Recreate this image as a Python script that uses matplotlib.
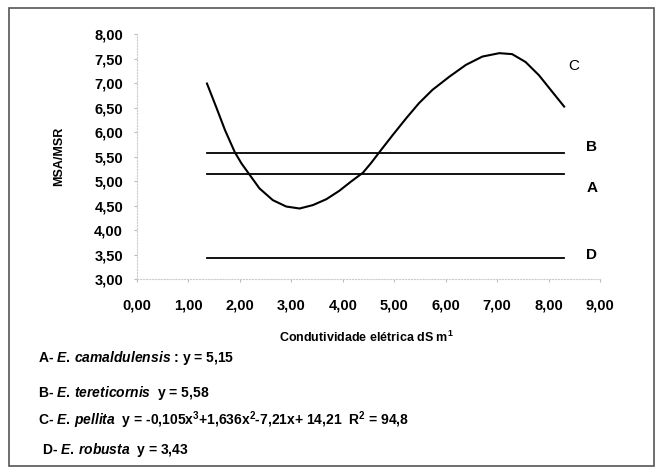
import matplotlib.pyplot as plt

plt.rcParams['font.family'] = 'Liberation Sans'
plt.rcParams['font.weight'] = 'bold'
plt.rcParams['axes.labelweight'] = 'bold'
plt.rcParams['mathtext.fontset'] = 'custom'
plt.rcParams['mathtext.rm'] = 'Liberation Sans:bold'
plt.rcParams['mathtext.it'] = 'Liberation Sans:italic:bold'
plt.rcParams['mathtext.bf'] = 'Liberation Sans:bold'

# curve C (E. pellita)
cx = [1.36, 1.55, 1.71, 1.90, 2.03, 2.16, 2.38, 2.64, 2.90, 3.16, 3.42, 3.68,
      3.93, 4.16, 4.39, 4.55, 4.71, 4.97, 5.23, 5.48, 5.74, 6.07, 6.39, 6.71,
      7.04, 7.29, 7.55, 7.81, 8.07, 8.30]
cy = [6.99, 6.48, 6.04, 5.59, 5.36, 5.17, 4.85, 4.61, 4.48, 4.44, 4.51, 4.63,
      4.80, 4.99, 5.17, 5.37, 5.59, 5.94, 6.28, 6.59, 6.86, 7.13, 7.37, 7.54,
      7.61, 7.59, 7.43, 7.16, 6.82, 6.52]

# constant lines
x_range = [1.36, 8.29]
y_a = 5.15
y_b = 5.58
y_d = 3.43

xticks = [0, 1, 2, 3, 4, 5, 6, 7, 8, 9]
yticks = [3.0, 3.5, 4.0, 4.5, 5.0, 5.5, 6.0, 6.5, 7.0, 7.5, 8.0]

fig = plt.figure(figsize=(6.57, 4.69), dpi=100)
ax = fig.add_axes([0.2085, 0.405, 0.705, 0.5224])

ax.plot(cx, cy, color='black', lw=1.5, solid_joinstyle='round')
ax.plot(x_range, [y_b, y_b], color='black', lw=1.3)
ax.plot(x_range, [y_a, y_a], color='black', lw=1.3)
ax.plot(x_range, [y_d, y_d], color='black', lw=1.3)

ax.text(8.49, 7.35, 'C', fontsize=11, fontweight='normal', ha='center', va='center')
ax.text(8.84, 5.69, 'B', fontsize=11, ha='center', va='center')
ax.text(8.84, 4.86, 'A', fontsize=11, ha='center', va='center')
ax.text(8.84, 3.49, 'D', fontsize=11, ha='center', va='center')

ax.set_xlim(0, 9)
ax.set_ylim(3, 8)
ax.set_xticks(xticks)
ax.set_yticks(yticks)
ax.set_xticklabels([f'{v:.2f}'.replace('.', ',') for v in xticks])
ax.set_yticklabels([f'{v:.2f}'.replace('.', ',') for v in yticks])
ax.tick_params(labelsize=10.5, length=2, color='#bbbbbb')
ax.tick_params(axis='y', pad=8)
ax.tick_params(axis='x', pad=12)

for s in ['top', 'right']:
    ax.spines[s].set_visible(False)
for s in ['left', 'bottom']:
    ax.spines[s].set_color('#cccccc')
    ax.spines[s].set_linestyle(':')
    ax.spines[s].set_linewidth(0.8)

ax.set_ylabel('MSA/MSR', fontsize=9)
ax.yaxis.set_label_coords(-0.155, 0.5)

fig.text(0.557, 0.2815, 'Condutividade elétrica dS m$^1$', fontsize=9,
         ha='center', va='center')

fig.text(0.058, 0.237, r'A- $E.\,camaldulensis$ : y = 5,15', fontsize=10, va='center')
fig.text(0.058, 0.162, r'B- $E.\,tereticornis$  y = 5,58', fontsize=10, va='center')
fig.text(0.058, 0.104,
         r'C- $E.\,pellita$  y = -0,105x$^3$+1,636x$^2$-7,21x+ 14,21  R$^2$ = 94,8',
         fontsize=10, va='center')
fig.text(0.064, 0.04, r'D- $E.\,robusta$  y = 3,43', fontsize=10, va='center')

# outer frame
fig.add_artist(plt.Rectangle((0.014, 0.006), 0.982, 0.977, transform=fig.transFigure,
                             fill=False, edgecolor='#555555', lw=1.2))

fig.savefig('out.png', dpi=100)
